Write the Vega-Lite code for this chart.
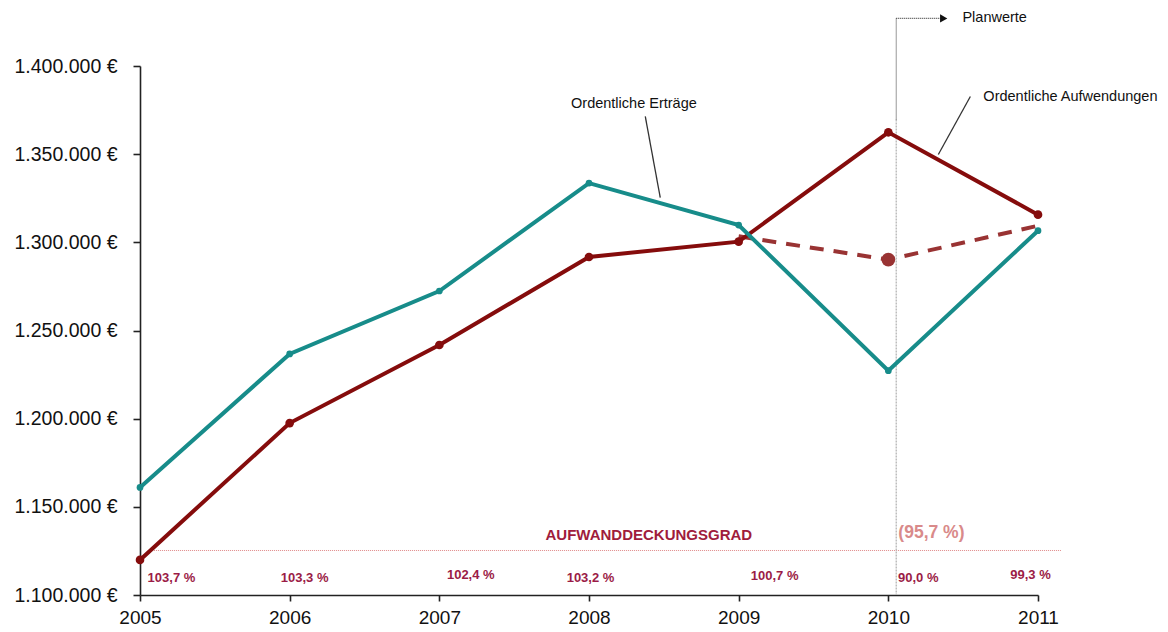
{
  "$schema": "https://vega.github.io/schema/vega-lite/v6.json",
  "width": 898,
  "height": 529,
  "autosize": {"type": "none"},
  "padding": {"left": 140, "top": 66, "right": 130, "bottom": 37},
  "background": "white",
  "config": {"view": {"stroke": null}, "font": "Liberation Sans"},
  "datasets": {
    "ertraege": [
      {"jahr": 2005, "wert": 1161000},
      {"jahr": 2006, "wert": 1236700},
      {"jahr": 2007, "wert": 1272400},
      {"jahr": 2008, "wert": 1333600},
      {"jahr": 2009, "wert": 1309800},
      {"jahr": 2010, "wert": 1227200},
      {"jahr": 2011, "wert": 1306600}
    ],
    "aufwendungen": [
      {"jahr": 2005, "wert": 1119900},
      {"jahr": 2006, "wert": 1197500},
      {"jahr": 2007, "wert": 1241800},
      {"jahr": 2008, "wert": 1291700},
      {"jahr": 2009, "wert": 1300400},
      {"jahr": 2010, "wert": 1362400},
      {"jahr": 2011, "wert": 1315700}
    ],
    "plan": [
      {"jahr": 2009, "wert": 1303400},
      {"jahr": 2010, "wert": 1290200},
      {"jahr": 2011, "wert": 1309400}
    ],
    "grad": [
      {"jahr": 2005.21, "wert": 1109900, "label": "103,7 %"},
      {"jahr": 2006.10, "wert": 1109900, "label": "103,3 %"},
      {"jahr": 2007.21, "wert": 1111100, "label": "102,4 %"},
      {"jahr": 2008.01, "wert": 1109900, "label": "103,2 %"},
      {"jahr": 2009.24, "wert": 1110500, "label": "100,7 %"},
      {"jahr": 2010.20, "wert": 1109900, "label": "90,0 %"},
      {"jahr": 2010.95, "wert": 1111600, "label": "99,3 %"}
    ],
    "gradlinie": [{"x": 2005.053, "x2": 2011.16, "y": 1125240}],
    "vlinie_unten": [{"x": 2010.053, "y": 1369700, "y2": 1100000}],
    "vlinie_oben": [{"x": 2010.053, "y": 1427000, "y2": 1369700}],
    "pfeil": [{"x": 2010.053, "x2": 2010.35, "y": 1427000}],
    "pfeilspitze": [{"x": 2010.37, "y": 1427000}],
    "leader": [
      {"x": 2008.376, "y": 1371400, "x2": 2008.476, "y2": 1325400},
      {"x": 2010.548, "y": 1382700, "x2": 2010.334, "y2": 1349800}
    ],
    "lbl_mitte": [{"x": 2008.30, "y": 1378200, "text": "Ordentliche Erträge"}],
    "lbl_links": [
      {"x": 2010.635, "y": 1382200, "text": "Ordentliche Aufwendungen"},
      {"x": 2010.495, "y": 1427000, "text": "Planwerte"}
    ],
    "lbl_grad": [{"x": 2008.40, "y": 1134300, "text": "AUFWANDDECKUNGSGRAD"}],
    "lbl_plan": [{"x": 2010.067, "y": 1135400, "text": "(95,7 %)"}]
  },
  "layer": [
    {
      "data": {"name": "gradlinie"},
      "mark": {"type": "rule", "color": "#e08a8a", "strokeWidth": 1, "strokeDash": [1, 1]},
      "encoding": {
        "x": {"field": "x", "type": "quantitative", "scale": {"domain": [2005, 2011], "nice": false, "zero": false},
          "axis": {"values": [2005, 2006, 2007, 2008, 2009, 2010, 2011], "format": "d", "title": null, "grid": false,
            "domainColor": "#222222", "domainWidth": 1.6, "tickColor": "#222222", "tickWidth": 1.6, "tickSize": 6,
            "labelFontSize": 19, "labelColor": "#111111", "labelPadding": 7, "labelFlush": false, "labelFont": "Liberation Sans"}},
        "x2": {"field": "x2"},
        "y": {"field": "y", "type": "quantitative", "scale": {"domain": [1100000, 1400000], "nice": false, "zero": false},
          "axis": {"values": [1100000, 1150000, 1200000, 1250000, 1300000, 1350000, 1400000], "title": null, "grid": false,
            "labelExpr": "replace(replace(format(datum.value, ',d'), ',', '.'), ',', '.') + ' €'",
            "domainColor": "#222222", "domainWidth": 1.6, "tickColor": "#222222", "tickWidth": 1.6, "tickSize": 7,
            "labelFontSize": 19.5, "labelColor": "#111111", "labelPadding": 16, "labelFont": "Liberation Sans"}}
      }
    },
    {
      "data": {"name": "vlinie_unten"},
      "mark": {"type": "rule", "color": "#bdbdbd", "strokeWidth": 1.5, "strokeDash": [2, 1]},
      "encoding": {
        "x": {"field": "x", "type": "quantitative"},
        "y": {"field": "y", "type": "quantitative"},
        "y2": {"field": "y2"}
      }
    },
    {
      "data": {"name": "vlinie_oben"},
      "mark": {"type": "rule", "color": "#555555", "strokeWidth": 1.2, "strokeDash": [1, 1]},
      "encoding": {
        "x": {"field": "x", "type": "quantitative"},
        "y": {"field": "y", "type": "quantitative"},
        "y2": {"field": "y2"}
      }
    },
    {
      "data": {"name": "pfeil"},
      "mark": {"type": "rule", "color": "#444444", "strokeWidth": 1.2, "strokeDash": [1, 1]},
      "encoding": {
        "x": {"field": "x", "type": "quantitative"},
        "x2": {"field": "x2"},
        "y": {"field": "y", "type": "quantitative"}
      }
    },
    {
      "data": {"name": "pfeilspitze"},
      "mark": {"type": "point", "shape": "triangle-right", "filled": true, "color": "#111111", "size": 70, "opacity": 1},
      "encoding": {
        "x": {"field": "x", "type": "quantitative"},
        "y": {"field": "y", "type": "quantitative"}
      }
    },
    {
      "data": {"name": "leader"},
      "mark": {"type": "rule", "color": "#333333", "strokeWidth": 1.3},
      "encoding": {
        "x": {"field": "x", "type": "quantitative"},
        "y": {"field": "y", "type": "quantitative"},
        "x2": {"field": "x2"},
        "y2": {"field": "y2"}
      }
    },
    {
      "data": {"name": "plan"},
      "mark": {"type": "line", "color": "#993333", "strokeWidth": 4, "strokeDash": [14, 10]},
      "encoding": {
        "x": {"field": "jahr", "type": "quantitative"},
        "y": {"field": "wert", "type": "quantitative"}
      }
    },
    {
      "data": {"name": "plan"},
      "transform": [{"filter": "datum.jahr == 2010"}],
      "mark": {"type": "point", "filled": true, "color": "#993333", "size": 190, "opacity": 1},
      "encoding": {
        "x": {"field": "jahr", "type": "quantitative"},
        "y": {"field": "wert", "type": "quantitative"}
      }
    },
    {
      "data": {"name": "aufwendungen"},
      "mark": {"type": "line", "color": "#850c0c", "strokeWidth": 4, "point": {"filled": true, "size": 75, "color": "#850c0c", "opacity": 1}},
      "encoding": {
        "x": {"field": "jahr", "type": "quantitative"},
        "y": {"field": "wert", "type": "quantitative"}
      }
    },
    {
      "data": {"name": "ertraege"},
      "mark": {"type": "line", "color": "#178c8a", "strokeWidth": 4, "point": {"filled": true, "size": 45, "color": "#178c8a", "opacity": 1}},
      "encoding": {
        "x": {"field": "jahr", "type": "quantitative"},
        "y": {"field": "wert", "type": "quantitative"}
      }
    },
    {
      "data": {"name": "grad"},
      "mark": {"type": "text", "font": "Liberation Sans", "fontWeight": "bold", "fontSize": 13, "color": "#9b1c46", "align": "center", "baseline": "middle"},
      "encoding": {
        "x": {"field": "jahr", "type": "quantitative"},
        "y": {"field": "wert", "type": "quantitative"},
        "text": {"field": "label"}
      }
    },
    {
      "data": {"name": "lbl_mitte"},
      "mark": {"type": "text", "font": "Liberation Sans", "fontSize": 14.5, "color": "#111111", "align": "center", "baseline": "middle"},
      "encoding": {
        "x": {"field": "x", "type": "quantitative"},
        "y": {"field": "y", "type": "quantitative"},
        "text": {"field": "text"}
      }
    },
    {
      "data": {"name": "lbl_links"},
      "mark": {"type": "text", "font": "Liberation Sans", "fontSize": 14.5, "color": "#111111", "align": "left", "baseline": "middle"},
      "encoding": {
        "x": {"field": "x", "type": "quantitative"},
        "y": {"field": "y", "type": "quantitative"},
        "text": {"field": "text"}
      }
    },
    {
      "data": {"name": "lbl_grad"},
      "mark": {"type": "text", "font": "Liberation Sans", "fontWeight": "bold", "fontSize": 15, "color": "#a01c3c", "align": "center", "baseline": "middle"},
      "encoding": {
        "x": {"field": "x", "type": "quantitative"},
        "y": {"field": "y", "type": "quantitative"},
        "text": {"field": "text"}
      }
    },
    {
      "data": {"name": "lbl_plan"},
      "mark": {"type": "text", "font": "Liberation Sans", "fontWeight": "bold", "fontSize": 17.5, "color": "#d98a8a", "align": "left", "baseline": "middle"},
      "encoding": {
        "x": {"field": "x", "type": "quantitative"},
        "y": {"field": "y", "type": "quantitative"},
        "text": {"field": "text"}
      }
    }
  ]
}
